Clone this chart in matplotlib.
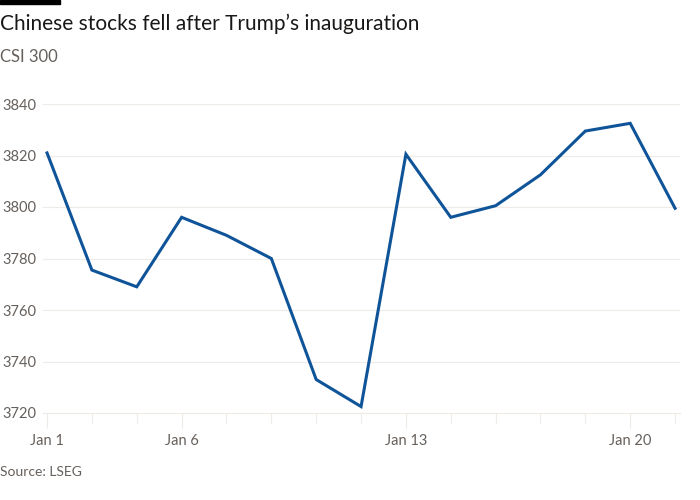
import matplotlib.pyplot as plt
import numpy as np

plt.rcParams['font.family'] = ['Lato', 'DejaVu Sans']

dates = ['Jan 1', 'Jan 2', 'Jan 3', 'Jan 6', 'Jan 7', 'Jan 8', 'Jan 9', 'Jan 10',
         'Jan 13', 'Jan 14', 'Jan 15', 'Jan 16', 'Jan 17', 'Jan 20', 'Jan 21']
csi300 = [3821, 3775.5, 3769, 3796, 3789, 3780, 3733, 3722.5,
          3820.5, 3796, 3800.5, 3812.5, 3829.5, 3832.5, 3799.5]
labelled = ['Jan 1', 'Jan 6', 'Jan 13', 'Jan 20']
yticks = [3720, 3740, 3760, 3780, 3800, 3820, 3840]

grey = '#66605c'
grid_col = '#efebe7'

fig = plt.figure(figsize=(7, 5), dpi=100)
ax = fig.add_axes([43 / 700, 87 / 500, (680 - 43) / 700, (413 - 104) / 500])

x = np.arange(len(dates))
ax.plot(x, csi300, color='#0f5499', lw=2.2, solid_joinstyle='miter')

ax.set_xlim(-0.09, len(dates) - 1 + 0.11)
ax.set_ylim(3720, 3840)
ax.set_yticks(yticks)
ax.yaxis.grid(True, color=grid_col, lw=0.8)
ax.set_axisbelow(True)
for s in ['top', 'right', 'left']:
    ax.spines[s].set_visible(False)
ax.spines['bottom'].set_color(grid_col)
ax.tick_params(axis='y', length=0, labelsize=10.5, labelcolor=grey, pad=5)

major = [dates.index(d) for d in labelled]
ax.set_xticks(major)
ax.set_xticklabels(labelled)
ax.set_xticks(x, minor=True)
ax.tick_params(axis='x', which='major', length=11, color=grid_col, width=0.8,
               labelsize=10.5, labelcolor=grey, pad=4)
ax.tick_params(axis='x', which='minor', length=7, color=grid_col, width=0.8)

fig.patches.append(plt.Rectangle((0, 496 / 500), 60 / 700, 4 / 500,
                                 transform=fig.transFigure, color='black'))
fig.text(0, 476 / 500, 'Chinese stocks fell after Trump\u2019s inauguration',
         fontsize=15, color='#1a1817', va='center', ha='left')
fig.text(0, 443 / 500, 'CSI 300', fontsize=12, color=grey, va='center', ha='left')
fig.text(0, 28 / 500, 'Source: LSEG', fontsize=10, color=grey, va='center', ha='left')

fig.savefig('out.png', dpi=100)
